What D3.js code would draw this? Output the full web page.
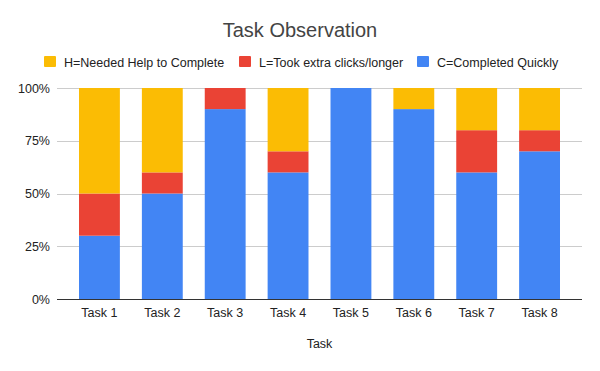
<!DOCTYPE html>
<html>
<head>
<meta charset="utf-8">
<script src="https://cdn.jsdelivr.net/npm/d3@7"></script>
<style>
  body { margin: 0; background: #fff; }
  text { font-family: "Liberation Sans", Arial, sans-serif; }
</style>
</head>
<body>
<svg id="chart" width="600" height="371"></svg>
<script>
// data
var tasks = ['Task 1', 'Task 2', 'Task 3', 'Task 4', 'Task 5', 'Task 6', 'Task 7', 'Task 8'];
var completedQuickly = [30, 50, 90, 60, 100, 90, 60, 70];
var tookLonger = [20, 10, 10, 10, 0, 0, 20, 10];
var neededHelp = [50, 40, 0, 30, 0, 10, 20, 20];
var yTicks = [0, 0.25, 0.5, 0.75, 1];

var series = [
  { key: 'C', label: 'C=Completed Quickly', color: '#4285f4', values: completedQuickly },
  { key: 'L', label: 'L=Took extra clicks/longer', color: '#ea4335', values: tookLonger },
  { key: 'H', label: 'H=Needed Help to Complete', color: '#fbbc04', values: neededHelp }
];

var svg = d3.select('#chart');
var W = 600, H = 371;
var plot = { left: 57, right: 582, top: 88, bottom: 299 };

var rows = tasks.map(function(t, i){
  var r = { task: t };
  series.forEach(function(s){ r[s.key] = s.values[i]; });
  return r;
});
var stacked = d3.stack().keys(series.map(s => s.key)).offset(d3.stackOffsetExpand)(rows);

var x = d3.scaleBand().domain(tasks).range([68, 571]).paddingInner(0.35).paddingOuter(0.175);
var y = d3.scaleLinear().domain([0, 1]).range([plot.bottom, plot.top]);

// gridlines
svg.append('g').selectAll('line').data(yTicks.slice(1)).join('line')
  .attr('x1', plot.left).attr('x2', plot.right)
  .attr('y1', d => Math.round(y(d)) + 0.5).attr('y2', d => Math.round(y(d)) + 0.5)
  .attr('stroke', '#cccccc').attr('stroke-width', 1);

// y labels
svg.append('g').selectAll('text').data(yTicks).join('text')
  .attr('x', 50).attr('y', d => y(d) + 4.5)
  .attr('text-anchor', 'end').attr('font-size', 12.5).attr('fill', '#222')
  .text(d => d3.format('.0%')(d));

// bars
svg.append('g').selectAll('g').data(stacked).join('g')
  .attr('fill', (d, i) => series[i].color)
  .selectAll('rect').data(d => d).join('rect')
  .attr('x', d => x(d.data.task))
  .attr('width', x.bandwidth())
  .attr('y', d => y(d[1]))
  .attr('height', d => y(d[0]) - y(d[1]));

// baseline
svg.append('line')
  .attr('x1', plot.left).attr('x2', plot.right)
  .attr('y1', plot.bottom + 0.5).attr('y2', plot.bottom + 0.5)
  .attr('stroke', '#333').attr('stroke-width', 1);

// x labels
svg.append('g').selectAll('text').data(tasks).join('text')
  .attr('x', d => x(d) + x.bandwidth() / 2).attr('y', 317)
  .attr('text-anchor', 'middle').attr('font-size', 12.5).attr('fill', '#222')
  .text(d => d);

// x axis title
svg.append('text').attr('x', (plot.left + plot.right) / 2).attr('y', 348)
  .attr('text-anchor', 'middle').attr('font-size', 12.5).attr('fill', '#222')
  .text('Task');

// title
svg.append('text').attr('x', W / 2).attr('y', 37)
  .attr('text-anchor', 'middle').attr('font-size', 20).attr('fill', '#444')
  .text('Task Observation');

// legend (top-down order: H, L, C)
var legendItems = [series[2], series[1], series[0]];
var legendX = [44, 239, 417];
var legend = svg.append('g').selectAll('g').data(legendItems).join('g')
  .attr('transform', (d, i) => 'translate(' + legendX[i] + ',56)');
legend.append('rect').attr('width', 12).attr('height', 11).attr('rx', 1)
  .attr('fill', d => d.color);
legend.append('text').attr('x', 20).attr('y', 10.5)
  .attr('font-size', 12.5).attr('fill', '#222')
  .text(d => d.label);
</script>
</body>
</html>
